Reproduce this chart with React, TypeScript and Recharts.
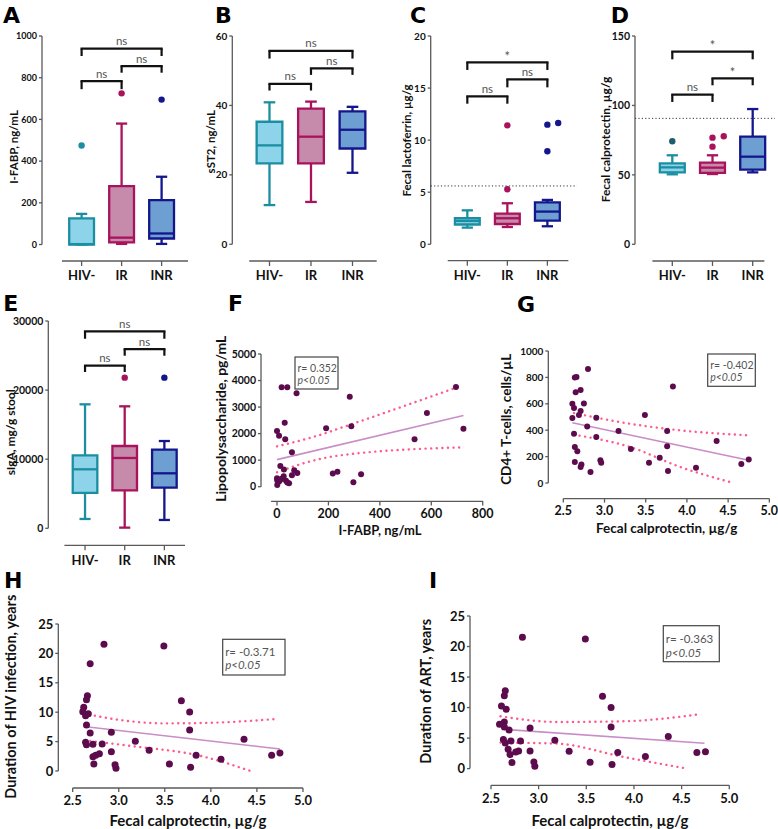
import { Fragment } from 'react'
import { ComposedChart, XAxis, YAxis, Scatter, Line, ReferenceLine, ReferenceArea } from 'recharts'

const FONT = 'Lato, "Open Sans", sans-serif'
const AXIS = '#5a5a5a'
const INK = '#111'
const DOT = '#5c0b4d'
const FIT = '#c98dc8'
const BAND = '#ff5a8c'

const GROUPS = ['HIV-', 'IR', 'INR']
const GROUP_STROKE = ['#1b8fa1', '#a9135c', '#14168c']
const GROUP_FILL = ['#8dd3ea', '#c68aab', '#6d9fd3']

// box stats per group: [min, q1, median, q3, max]
const fabpBox = [[0, 0, 2, 125, 147], [3, 10, 33, 280, 580], [3, 29, 53, 213, 325]]
const fabpOut = [{ x: 0, y: 475 }, { x: 1, y: 725 }, { x: 2, y: 695 }]
// brackets: [from, to, bar, leg end, label]
const fabpSig = [[0, 1, 784, 745, 'ns'], [1, 2, 856, 824, 'ns'], [0, 2, 939, 904, 'ns']]

const st2Box = [[11.3, 23.3, 28.5, 35.3, 40.9], [12.2, 23.3, 31, 39.1, 41.1], [20.6, 27.6, 33, 38.3, 39.6]]
const st2Out: any[] = []
const st2Sig = [[0, 1, 46.2, 44.3, 'ns'], [1, 2, 50.7, 48.8, 'ns'], [0, 2, 55.7, 53.5, 'ns']]

const lactoBox = [[1.6, 1.9, 2.24, 2.5, 3.26], [1.66, 1.95, 2.5, 2.94, 3.94], [1.73, 2.27, 3.14, 4.03, 4.26]]
const lactoOut = [{ x: 1, y: 11.42 }, { x: 1, y: 5.28 }, { x: 2, y: 11.49 }, { x: 2, y: 8.93 }, { x: 2.27, y: 11.65 }]
const lactoSig = [[0, 1, 14.2, 13.5, 'ns'], [1, 2, 15.84, 15.07, 'ns'], [0, 2, 17.47, 16.74, '*']]
const lactoCutoff = 5.6

const calproBox = [[50.4, 51.8, 55.4, 58.3, 64.1], [50.6, 51.4, 55.2, 58.8, 64.1], [51.8, 53.8, 63.1, 77.5, 97.4]]
const calproOut = [{ x: 0, y: 74.2 }, { x: 1, y: 76.8 }, { x: 1, y: 70.3 }, { x: 1.28, y: 77.8 }]
const calproSig = [[0, 1, 107.8, 102.5, 'ns'], [1, 2, 119.5, 114.5, '*'], [0, 2, 138.7, 133.2, '*']]
const calproCutoff = 90.7

const sigaBox = [[1350, 5113, 8537, 10563, 17942], [96, 5498, 10177, 11913, 17653], [1206, 5900, 7960, 11390, 12630]]
const sigaOut = [{ x: 1, y: 21800 }, { x: 2, y: 21800 }]
const sigaSig = [[0, 1, 23537, 22620, 'ns'], [1, 2, 25940, 24975, 'ns'], [0, 2, 28495, 27434, 'ns']]

// F: I-FABP vs LPS
const lpsPoints = [
  { x: 18, y: 3743 }, { x: 40, y: 3743 }, { x: 76, y: 3517 }, { x: 283, y: 3391 }, { x: 696, y: 3755 },
  { x: 583, y: 2776 }, { x: 30, y: 2411 }, { x: 191, y: 2198 }, { x: 289, y: 2273 }, { x: 725, y: 2185 },
  { x: 0, y: 2097 }, { x: 8, y: 1922 }, { x: 32, y: 1784 }, { x: 535, y: 1784 }, { x: 58, y: 1300 },
  { x: 13, y: 780 }, { x: 27, y: 650 }, { x: 67, y: 620 }, { x: 79, y: 515 }, { x: 58, y: 427 },
  { x: 26, y: 389 }, { x: 0, y: 320 }, { x: 1, y: 230 }, { x: 8, y: 200 }, { x: 35, y: 226 },
  { x: 40, y: 160 }, { x: 47, y: 126 }, { x: 1, y: 60 }, { x: 217, y: 495 }, { x: 235, y: 560 },
  { x: 297, y: 163 }, { x: 327, y: 470 }, { x: 18, y: 300 }, { x: 12, y: 250 },
]
const lpsFit = [{ x: 0, y: 1020 }, { x: 725, y: 2680 }]
const lpsHi = [{ x: 0, y: 1520 }, { x: 150, y: 1900 }, { x: 284, y: 2336 }, { x: 718, y: 3806 }]
const lpsLo = [{ x: 0, y: 540 }, { x: 120, y: 930 }, { x: 245, y: 1180 }, { x: 718, y: 1482 }]

// G: calprotectin vs CD4
const cd4Points = [
  { x: 2.8, y: 864 }, { x: 2.66, y: 803 }, { x: 2.64, y: 800 }, { x: 2.65, y: 687 }, { x: 2.71, y: 704 },
  { x: 2.61, y: 601 }, { x: 2.75, y: 603 }, { x: 2.63, y: 568 }, { x: 2.71, y: 545 }, { x: 2.69, y: 515 },
  { x: 3.83, y: 732 }, { x: 2.61, y: 492 }, { x: 2.9, y: 495 }, { x: 3.49, y: 515 }, { x: 2.79, y: 429 },
  { x: 2.63, y: 374 }, { x: 2.9, y: 348 }, { x: 3.17, y: 394 }, { x: 3.76, y: 394 }, { x: 2.64, y: 273 },
  { x: 2.67, y: 240 }, { x: 3.32, y: 258 }, { x: 3.76, y: 278 }, { x: 4.36, y: 318 }, { x: 2.64, y: 159 },
  { x: 2.72, y: 141 }, { x: 2.71, y: 121 }, { x: 2.83, y: 83 }, { x: 2.95, y: 172 }, { x: 2.96, y: 154 },
  { x: 3.54, y: 154 }, { x: 3.67, y: 192 }, { x: 3.77, y: 91 }, { x: 4.11, y: 116 }, { x: 4.66, y: 144 },
  { x: 4.75, y: 179 },
]
const cd4Fit = [{ x: 2.61, y: 457 }, { x: 4.75, y: 172 }]
const cd4Hi = [{ x: 2.63, y: 530 }, { x: 3.31, y: 449 }, { x: 3.92, y: 399 }, { x: 4.75, y: 361 }]
const cd4Lo = [{ x: 2.63, y: 366 }, { x: 3.31, y: 273 }, { x: 3.92, y: 121 }, { x: 4.52, y: 8 }]

// H: calprotectin vs duration of HIV infection
const hivPoints = [
  { x: 2.84, y: 21.54 }, { x: 3.49, y: 21.26 }, { x: 2.69, y: 18.25 }, { x: 2.66, y: 12.81 }, { x: 2.65, y: 12.13 },
  { x: 3.68, y: 11.96 }, { x: 2.62, y: 10.83 }, { x: 2.61, y: 10.09 }, { x: 2.67, y: 9.75 }, { x: 3.77, y: 10.03 },
  { x: 2.64, y: 9.41 }, { x: 2.65, y: 7.82 }, { x: 3.77, y: 6.97 }, { x: 2.69, y: 6.46 }, { x: 2.92, y: 6.58 },
  { x: 2.64, y: 4.88 }, { x: 2.65, y: 4.48 }, { x: 2.72, y: 4.54 }, { x: 2.82, y: 4.59 }, { x: 3.18, y: 5.05 },
  { x: 4.36, y: 5.39 }, { x: 3.33, y: 3.51 }, { x: 2.92, y: 3.29 }, { x: 2.72, y: 2.44 }, { x: 2.75, y: 2.66 },
  { x: 2.79, y: 2.95 }, { x: 3.84, y: 2.66 }, { x: 4.66, y: 2.66 }, { x: 4.75, y: 3.06 }, { x: 4.11, y: 1.98 },
  { x: 2.73, y: 1.19 }, { x: 2.96, y: 1.08 }, { x: 3.55, y: 1.19 }, { x: 2.97, y: 0.45 }, { x: 3.78, y: 0.62 },
]
const hivFit = [{ x: 2.67, y: 7.48 }, { x: 4.75, y: 3.74 }]
const hivHi = [{ x: 2.68, y: 9.6 }, { x: 3.0, y: 8.7 }, { x: 3.5, y: 8.1 }, { x: 4.0, y: 8.2 }, { x: 4.68, y: 8.8 }]
const hivLo = [{ x: 2.69, y: 5.1 }, { x: 3.16, y: 4.2 }, { x: 3.88, y: 2.6 }, { x: 4.42, y: 0.06 }]

// I: calprotectin vs duration of ART
const artPoints = [
  { x: 2.83, y: 21.5 }, { x: 3.49, y: 21.23 }, { x: 2.65, y: 12.77 }, { x: 2.64, y: 11.95 }, { x: 3.67, y: 11.85 },
  { x: 2.61, y: 10.26 }, { x: 2.66, y: 9.72 }, { x: 3.76, y: 9.99 }, { x: 2.64, y: 7.64 }, { x: 2.59, y: 7.26 },
  { x: 2.64, y: 6.82 }, { x: 2.69, y: 6.33 }, { x: 2.91, y: 6.66 }, { x: 3.76, y: 6.82 }, { x: 2.63, y: 4.75 },
  { x: 2.65, y: 4.2 }, { x: 2.71, y: 4.53 }, { x: 2.81, y: 4.53 }, { x: 3.17, y: 4.64 }, { x: 4.36, y: 5.24 },
  { x: 2.68, y: 3.17 }, { x: 2.7, y: 2.29 }, { x: 2.76, y: 2.73 }, { x: 2.79, y: 2.89 }, { x: 2.91, y: 2.89 },
  { x: 3.32, y: 2.84 }, { x: 3.83, y: 2.62 }, { x: 4.66, y: 2.62 }, { x: 4.75, y: 2.78 }, { x: 4.12, y: 1.97 },
  { x: 2.72, y: 0.98 }, { x: 2.95, y: 1.09 }, { x: 3.54, y: 1.04 }, { x: 2.96, y: 0.38 }, { x: 3.77, y: 0.66 },
]
const artFit = [{ x: 2.63, y: 6.44 }, { x: 4.74, y: 4.15 }]
const artHi = [{ x: 2.6, y: 8.57 }, { x: 3.19, y: 7.64 }, { x: 3.89, y: 7.75 }, { x: 4.69, y: 8.9 }]
const artLo = [{ x: 2.6, y: 4.26 }, { x: 3.19, y: 4.09 }, { x: 3.89, y: 1.91 }, { x: 4.52, y: 0.1 }]

const calproTicks = [2.5, 3.0, 3.5, 4.0, 4.5, 5.0]
const yearTicks = [0, 5, 10, 15, 20, 25]

// panel frames, page pixels: PL/PR plot left/right, PT/PB plot top/bottom
const GEO: Record<string, any> = {
  A: { left: 0, PL: 42, PR: 188, PT: 36, PB: 261, mt: 10, mr: 8, xh: 30, x: [-0.99, 2.66], xLine: [-0.49, 2.66], y: [-79, 1000] },
  B: { left: 196, PL: 232.3, PR: 376.7, PT: 36, PB: 261, mt: 10, mr: 8, xh: 30, x: [-0.896, 2.583], xLine: [-0.487, 2.583], y: [-4.81, 60] },
  C: { left: 392, PL: 430.7, PR: 577, PT: 36, PB: 260.7, mt: 10, mr: 8, xh: 30, x: [-0.915, 2.74], xLine: [-0.49, 2.525], y: [-1.575, 20] },
  D: { left: 592, PL: 635, PR: 775, PT: 36, PB: 261, mt: 10, mr: 3, xh: 30, x: [-0.928, 2.555], xLine: [-0.495, 2.29], y: [-12.03, 150] },
  E: { left: 0, PL: 48.3, PR: 185, PT: 320.7, PB: 545, mt: 10, mr: 8, xh: 30, x: [-0.926, 2.52], xLine: [-0.52, 2.52], y: [-2460, 30000] },
  F: { left: 200, PL: 261, PR: 484, PT: 354.3, PB: 501.7, mt: 25, mr: 10, xh: 40, x: [-62.2, 805], xLine: [-23, 802], y: [-554, 5000] },
  G: { left: 492, PL: 548.3, PR: 771, PT: 350.7, PB: 498.3, mt: 14, mr: 7, xh: 40, x: [2.318, 5.02], xLine: [2.5, 5.0], y: [-118, 1000] },
  H: { left: 0, PL: 58.3, PR: 305, PT: 624.3, PB: 788.3, mt: 40, mr: 12, xh: 40.7, x: [2.344, 5.022], xLine: [2.5, 5.0], y: [-2.89, 25] },
  I: { left: 410, PL: 470, PR: 731, PT: 615.7, PB: 785, mt: 30, mr: 12, xh: 44, x: [2.28, 5.018], xLine: [2.5, 5.0], y: [-2.736, 25] },
}

const BOX_HALF = 0.31
const CAP_HALF = 0.14

function frame(g: any) {
  const top = g.PT - g.mt
  return {
    left: g.left,
    top,
    width: g.PR + g.mr - g.left,
    height: g.PB + g.xh - top,
    margin: { top: g.mt, right: g.mr, left: 0, bottom: 0 },
    yw: g.PL - g.left,
  }
}

const tickStyle = (size: number) => ({ fontSize: size, fontWeight: 700, fill: INK, fontFamily: FONT })

function title(text: string, x: number, y: number, size: number, vertical: boolean) {
  return {
    content: () => (
      <text
        x={x}
        y={y}
        transform={vertical ? `rotate(-90 ${x} ${y})` : undefined}
        textAnchor="middle"
        dominantBaseline="central"
        fill={INK}
        style={{ fontSize: size, fontWeight: 700, fontFamily: FONT }}
      >
        {text}
      </text>
    ),
  }
}

function AxisLines({ g }: { g: any }) {
  return (
    <>
      <ReferenceLine segment={[{ x: g.x[0], y: 0 }, { x: g.x[0], y: g.y[1] }]} stroke={AXIS} strokeWidth={1.3} ifOverflow="visible" />
      <ReferenceLine segment={[{ x: g.xLine[0], y: g.y[0] }, { x: g.xLine[1], y: g.y[0] }]} stroke={AXIS} strokeWidth={1.3} ifOverflow="visible" />
    </>
  )
}

function BoxPanel({ g, stats, outliers, sig, yTicks, yTick, yTitle, cutoff, dotColors }: any) {
  const f = frame(g)
  const lw = 2.3
  const colors = dotColors || GROUP_STROKE
  return (
    <div style={{ position: 'absolute', left: f.left, top: f.top }}>
      <ComposedChart width={f.width} height={f.height} margin={f.margin}>
        <XAxis
          type="number"
          dataKey="x"
          domain={g.x}
          ticks={[0, 1, 2]}
          interval={0}
          allowDataOverflow
          tickFormatter={(v: number) => GROUPS[v]}
          axisLine={false}
          tickLine={{ stroke: AXIS, strokeWidth: 1.3 }}
          tickSize={5}
          tickMargin={5}
          height={g.xh}
          tick={tickStyle(13)}
        />
        <YAxis
          type="number"
          domain={g.y}
          ticks={yTicks}
          interval={0}
          allowDataOverflow
          axisLine={false}
          tickLine={{ stroke: AXIS, strokeWidth: 1.3 }}
          tickSize={3}
          tickMargin={2}
          width={f.yw}
          tick={tickStyle(yTick)}
          label={title(yTitle[0], yTitle[1] - f.left, yTitle[2] - f.top, yTitle[3], true)}
        />
        <AxisLines g={g} />
        {cutoff != null && (
          <ReferenceLine y={cutoff} stroke="#333" strokeWidth={1} strokeDasharray="1.2 2.2" ifOverflow="visible" />
        )}
        {stats.map(([mn, q1, md, q3, mx]: number[], i: number) => (
          <Fragment key={'b' + i}>
            <ReferenceLine segment={[{ x: i, y: q3 }, { x: i, y: mx }]} stroke={GROUP_STROKE[i]} strokeWidth={lw} ifOverflow="visible" />
            <ReferenceLine segment={[{ x: i, y: mn }, { x: i, y: q1 }]} stroke={GROUP_STROKE[i]} strokeWidth={lw} ifOverflow="visible" />
            <ReferenceLine segment={[{ x: i - CAP_HALF, y: mx }, { x: i + CAP_HALF, y: mx }]} stroke={GROUP_STROKE[i]} strokeWidth={lw} ifOverflow="visible" />
            <ReferenceLine segment={[{ x: i - CAP_HALF, y: mn }, { x: i + CAP_HALF, y: mn }]} stroke={GROUP_STROKE[i]} strokeWidth={lw} ifOverflow="visible" />
            <ReferenceArea
              x1={i - BOX_HALF}
              x2={i + BOX_HALF}
              y1={q1}
              y2={q3}
              fill={GROUP_FILL[i]}
              fillOpacity={1}
              stroke={GROUP_STROKE[i]}
              strokeWidth={lw}
              ifOverflow="visible"
            />
            <ReferenceLine segment={[{ x: i - BOX_HALF, y: md }, { x: i + BOX_HALF, y: md }]} stroke={GROUP_STROKE[i]} strokeWidth={lw} ifOverflow="visible" />
          </Fragment>
        ))}
        {sig.map(([a, b, bar, leg]: any[], k: number) => (
          <Fragment key={'s' + k}>
            <ReferenceLine segment={[{ x: a, y: bar }, { x: b, y: bar }]} stroke={INK} strokeWidth={2.2} strokeLinecap="square" ifOverflow="visible" />
            <ReferenceLine segment={[{ x: a, y: bar }, { x: a, y: leg }]} stroke={INK} strokeWidth={2.2} ifOverflow="visible" />
            <ReferenceLine segment={[{ x: b, y: bar }, { x: b, y: leg }]} stroke={INK} strokeWidth={2.2} ifOverflow="visible" />
          </Fragment>
        ))}
        <Scatter
          data={sig.map((s: any[]) => ({ x: (s[0] + s[1]) / 2, y: s[2], t: s[4] }))}
          dataKey="y"
          isAnimationActive={false}
          shape={(p: any) => (
            <text
              x={p.cx}
              y={p.cy - (p.payload.t === '*' ? 1.5 : 3.5)}
              textAnchor="middle"
              fill="#555"
              style={{ fontSize: p.payload.t === '*' ? 13 : 11.5, fontFamily: FONT }}
            >
              {p.payload.t}
            </text>
          )}
        />
        <Scatter
          data={outliers}
          dataKey="y"
          isAnimationActive={false}
          shape={(p: any) => <circle cx={p.cx} cy={p.cy} r={3.2} fill={colors[Math.round(p.payload.x)]} />}
        />
      </ComposedChart>
    </div>
  )
}

function ScatterPanel({ g, pts, fit, hi, lo, xTicks, yTicks, xTick, yTick, xFmt, xTitle, yTitle, r }: any) {
  const f = frame(g)
  return (
    <div style={{ position: 'absolute', left: f.left, top: f.top }}>
      <ComposedChart width={f.width} height={f.height} margin={f.margin}>
        <XAxis
          type="number"
          dataKey="x"
          domain={g.x}
          ticks={xTicks}
          interval={0}
          allowDataOverflow
          tickFormatter={xFmt}
          axisLine={false}
          tickLine={{ stroke: AXIS, strokeWidth: 1.3 }}
          tickSize={4}
          tickMargin={4}
          height={g.xh}
          tick={tickStyle(xTick)}
          label={title(xTitle[0], xTitle[1] - f.left, xTitle[2] - f.top, xTitle[3], false)}
        />
        <YAxis
          type="number"
          domain={g.y}
          ticks={yTicks}
          interval={0}
          allowDataOverflow
          axisLine={false}
          tickLine={{ stroke: AXIS, strokeWidth: 1.3 }}
          tickSize={3}
          tickMargin={2}
          width={f.yw}
          tick={tickStyle(yTick)}
          label={title(yTitle[0], yTitle[1] - f.left, yTitle[2] - f.top, yTitle[3], true)}
        />
        <AxisLines g={g} />
        <Line data={hi} dataKey="y" type="monotone" stroke={BAND} strokeWidth={2.4} strokeDasharray="0.1 5.5" strokeLinecap="round" dot={false} isAnimationActive={false} />
        <Line data={lo} dataKey="y" type="monotone" stroke={BAND} strokeWidth={2.4} strokeDasharray="0.1 5.5" strokeLinecap="round" dot={false} isAnimationActive={false} />
        <Line data={fit} dataKey="y" type="linear" stroke={FIT} strokeWidth={1.6} dot={false} isAnimationActive={false} />
        <Scatter
          data={pts}
          dataKey="y"
          isAnimationActive={false}
          shape={(p: any) => <circle cx={p.cx} cy={p.cy} r={r} fill={DOT} />}
        />
      </ComposedChart>
    </div>
  )
}

// letters and correlation boxes
const LETTERS = [
  ['A', 3, 23.3], ['B', 215, 22.7], ['C', 410, 22.7], ['D', 610.7, 22.7],
  ['E', 3.3, 310.7], ['F', 228, 310.7], ['G', 517, 311.7], ['H', 4, 588], ['I', 429, 588],
]
const STATS = [
  { x: 295, y: 357, w: 43, h: 32, r: 'r= 0.352', p: 'p<0.05', b1: 372, b2: 383.5, size: 10.5 },
  { x: 707.7, y: 354, w: 47.6, h: 32.3, r: 'r= -0.402', p: 'p<0.05', b1: 369, b2: 380.5, size: 10.5 },
  { x: 222.7, y: 639.3, w: 62.3, h: 35.7, r: 'r= -0.3.71', p: 'p<0.05', b1: 656, b2: 669, size: 11.5 },
  { x: 663.3, y: 625.7, w: 56, h: 36, r: 'r= -0.363', p: 'p<0.05', b1: 643, b2: 656.5, size: 11.5 },
]

export default function App() {
  const fmt1 = (v: number) => v.toFixed(1)
  return (
    <div style={{ position: 'absolute', left: 0, top: 0, width: 778, height: 829, background: '#fff', overflow: 'hidden' }}>
      <BoxPanel g={GEO.A} stats={fabpBox} outliers={fabpOut} sig={fabpSig} yTicks={[0, 200, 400, 600, 800, 1000]} yTick={9} yTitle={['I-FABP, ng/mL', 13, 147, 11.5]} />
      <BoxPanel g={GEO.B} stats={st2Box} outliers={st2Out} sig={st2Sig} yTicks={[0, 20, 40, 60]} yTick={10} yTitle={['sST2, ng/mL', 210.7, 141.7, 11.5]} />
      <BoxPanel g={GEO.C} stats={lactoBox} outliers={lactoOut} sig={lactoSig} cutoff={lactoCutoff} yTicks={[0, 5, 10, 15, 20]} yTick={10} yTitle={['Fecal lactoferrin, µg/g', 406.7, 140.5, 11.5]} />
      <BoxPanel g={GEO.D} stats={calproBox} outliers={calproOut} sig={calproSig} cutoff={calproCutoff} dotColors={['#1d5d6e', GROUP_STROKE[1], GROUP_STROKE[2]]} yTicks={[0, 50, 100, 150]} yTick={10.5} yTitle={['Fecal calprotectin, µg/g', 605, 139.5, 12]} />
      <BoxPanel g={GEO.E} stats={sigaBox} outliers={sigaOut} sig={sigaSig} yTicks={[0, 10000, 20000, 30000]} yTick={10.5} yTitle={['sIgA, mg/g stool', 11, 432, 12]} />
      <ScatterPanel g={GEO.F} pts={lpsPoints} fit={lpsFit} hi={lpsHi} lo={lpsLo} xTicks={[0, 200, 400, 600, 800]} yTicks={[0, 1000, 2000, 3000, 4000, 5000]} xTick={12.5} yTick={10.5} r={3} xTitle={['I-FABP, ng/mL', 380, 530, 13]} yTitle={['Lipopolysaccharide, pg/mL', 221, 419, 14]} />
      <ScatterPanel g={GEO.G} pts={cd4Points} fit={cd4Fit} hi={cd4Hi} lo={cd4Lo} xTicks={calproTicks} yTicks={[0, 200, 400, 600, 800, 1000]} xTick={12.5} yTick={10} xFmt={fmt1} r={3} xTitle={['Fecal calprotectin, µg/g', 666.7, 527.3, 13.5]} yTitle={['CD4+ T-cells, cells/µL', 506, 419, 13.5]} />
      <ScatterPanel g={GEO.H} pts={hivPoints} fit={hivFit} hi={hivHi} lo={hivLo} xTicks={calproTicks} yTicks={yearTicks} xTick={13} yTick={13} xFmt={fmt1} r={3.5} xTitle={['Fecal calprotectin, µg/g', 188, 820, 15]} yTitle={['Duration of HIV infection, years', 10, 697, 14.5]} />
      <ScatterPanel g={GEO.I} pts={artPoints} fit={artFit} hi={artHi} lo={artLo} xTicks={calproTicks} yTicks={yearTicks} xTick={13} yTick={13} xFmt={fmt1} r={3.5} xTitle={['Fecal calprotectin, µg/g', 610, 820, 15]} yTitle={['Duration of ART, years', 425, 691, 14.5]} />
      <svg width={778} height={829} style={{ position: 'absolute', left: 0, top: 0, pointerEvents: 'none' }}>
        {LETTERS.map(([t, x, y]) => (
          <text key={t as string} x={x as number} y={y as number} fill="#000" style={{ fontSize: 22, fontWeight: 700, fontFamily: '"DejaVu Sans", sans-serif' }}>
            {t}
          </text>
        ))}
        {STATS.map((s) => (
          <g key={s.r}>
            <rect x={s.x} y={s.y} width={s.w} height={s.h} fill="#fff" stroke="#444" strokeWidth={1.2} />
            <text x={s.x + 2.5} y={s.b1} fill="#555" style={{ fontSize: s.size, fontFamily: FONT }}>{s.r}</text>
            <text x={s.x + 2.5} y={s.b2} fill="#555" style={{ fontSize: s.size, fontFamily: FONT, fontStyle: 'italic' }}>{s.p}</text>
          </g>
        ))}
      </svg>
    </div>
  )
}
